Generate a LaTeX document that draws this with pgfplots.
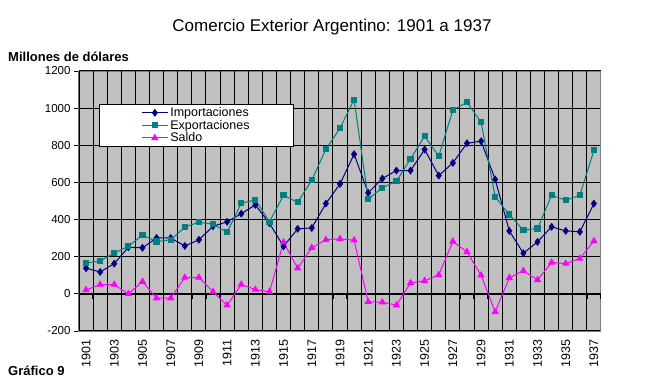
\documentclass[border=0pt]{standalone}
\usepackage{pgfplots}
\pgfplotsset{compat=1.18}
\usepackage{fontspec}
\setmainfont{Liberation Sans}
\definecolor{bggray}{HTML}{C0C0C0}
\definecolor{bordergray}{HTML}{808080}
\definecolor{impcol}{HTML}{000080}
\definecolor{expcol}{HTML}{008080}
\definecolor{salcol}{HTML}{FF00FF}
\begin{document}
\begin{tikzpicture}[x=1pt,y=1pt]
\useasboundingbox (0,0) rectangle (665,389);
\begin{axis}[
  at={(79pt,58pt)}, anchor=south west,
  scale only axis, width=522pt, height=260pt,
  xmin=1900.5, xmax=1937.5, ymin=-200, ymax=1200,
  axis background/.style={fill=bggray},
  axis line style={bordergray, line width=1pt},
  xtick={1901,1903,...,1937},
  xticklabel style={rotate=90, anchor=east, font=\fontsize{12.5}{13}\selectfont},
  xtick style={draw=none},
  ytick={-200,0,...,1200},
  ymajorgrids, major grid style={black, line width=1.2pt},
  ytick pos=left, tick align=outside,
  ytick style={black, line width=1pt},
  major tick length=5pt,
  yticklabel style={font=\fontsize{11.5}{12}\selectfont},
  /pgf/number format/assume math mode=true,
  /pgf/number format/1000 sep={},
  legend style={at={(0.038,0.873)}, anchor=north west, draw=black, line width=1pt, fill=white,
     font=\fontsize{12.5}{12}\selectfont, inner xsep=42pt, inner ysep=1pt, row sep=-2pt,
     legend cell align=left},
  legend image code/.code={\draw[mark repeat=2,mark phase=2,#1] plot coordinates {(0pt,0pt)(13pt,0pt)(26pt,0pt)};},
]
\pgfplotsinvokeforeach{1901.5,1902.5,1903.5,1904.5,1905.5,1906.5,1907.5,1908.5,1909.5,1910.5,1911.5,1912.5,1913.5,1914.5,1915.5,1916.5,1917.5,1918.5,1919.5,1920.5,1921.5,1922.5,1923.5,1924.5,1925.5,1926.5,1927.5,1928.5,1929.5,1930.5,1931.5,1932.5,1933.5,1934.5,1935.5,1936.5}{
  \draw[black, line width=1pt] (axis cs:#1,-200) -- (axis cs:#1,1200);
  \draw[black, line width=1.3pt] (axis cs:#1,0) -- ++(0pt,-5pt);
}
\draw[black, line width=1.3pt] (axis cs:1937.5,0) -- ++(0pt,-5pt);
\draw[black, line width=2.2pt] (axis cs:1900.5,0) -- (axis cs:1937.5,0);
\addplot[impcol, line width=1pt, mark=diamond*, mark size=3.2pt, mark options={fill=impcol, draw=impcol}] coordinates {
(1901,138)(1902,118)(1903,163)(1904,251)(1905,248)(1906,301)(1907,301)(1908,258)(1909,291)(1910,364)
(1911,388)(1912,432)(1913,479)(1914,380)(1915,256)(1916,350)(1917,355)(1918,486)(1919,592)(1920,752)
(1921,544)(1922,621)(1923,664)(1924,664)(1925,777)(1926,637)(1927,705)(1928,811)(1929,822)(1930,616)
(1931,339)(1932,219)(1933,280)(1934,361)(1935,339)(1936,334)(1937,486)};
\addlegendentry{Importaciones}
\addplot[expcol, line width=1pt, mark=square*, mark size=2.6pt, mark options={fill=expcol, draw=expcol}] coordinates {
(1901,165)(1902,178)(1903,219)(1904,257)(1905,316)(1906,282)(1907,291)(1908,359)(1909,386)(1910,375)
(1911,332)(1912,488)(1913,506)(1914,388)(1915,531)(1916,493)(1917,612)(1918,779)(1919,892)(1920,1046)
(1921,510)(1922,572)(1923,606)(1924,727)(1925,849)(1926,741)(1927,989)(1928,1032)(1929,924)(1930,522)
(1931,427)(1932,343)(1933,352)(1934,531)(1935,504)(1936,531)(1937,773)};
\addlegendentry{Exportaciones}
\addplot[salcol, line width=1pt, mark=triangle*, mark size=3.3pt, mark options={fill=salcol, draw=salcol}] coordinates {
(1901,21)(1902,50)(1903,50)(1904,0)(1905,66)(1906,-23)(1907,-23)(1908,88)(1909,88)(1910,11)
(1911,-61)(1912,50)(1913,23)(1914,11)(1915,278)(1916,138)(1917,248)(1918,291)(1919,296)(1920,289)
(1921,-43)(1922,-45)(1923,-61)(1924,59)(1925,70)(1926,102)(1927,282)(1928,226)(1929,100)(1930,-97)
(1931,86)(1932,124)(1933,75)(1934,169)(1935,163)(1936,190)(1937,285)};
\addlegendentry{Saldo}
\draw[black, line width=2pt] (rel axis cs:0,0) -- (rel axis cs:0,1);
\end{axis}
\node[font=\fontsize{17}{18}\selectfont] at (332,362) {Comercio Exterior Argentino: 1901 a 1937};
\node[font=\bfseries\fontsize{13}{14}\selectfont, anchor=west, inner sep=0pt] at (8,332) {Millones de dólares};
\node[font=\bfseries\fontsize{13}{14}\selectfont, anchor=west, inner sep=0pt] at (8,18) {Gráfico 9};
\end{tikzpicture}
\end{document}
